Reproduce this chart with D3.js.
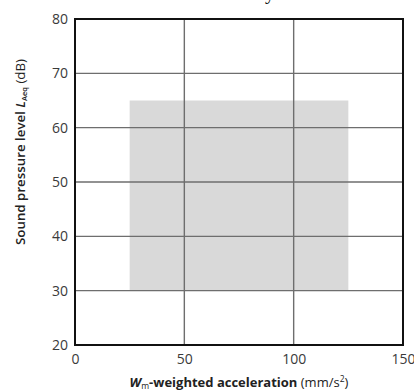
<!DOCTYPE html>
<html>
<head>
<meta charset="utf-8">
<script src="https://cdn.jsdelivr.net/npm/d3@7"></script>
<style>
  html, body { margin: 0; padding: 0; background: #fff; }
  svg { display: block; }
</style>
</head>
<body>
<svg id="chart" width="414" height="392"></svg>
<script>
// Axis domains and ticks
const xDomain = [0, 150];
const yDomain = [20, 80];
const xTicks = [0, 50, 100, 150];
const yTicks = [20, 30, 40, 50, 60, 70, 80];

// Shaded zone: acceleration range and sound pressure range
const zoneAccel = [25, 125];
const zoneLevel = [30, 65];

const svg = d3.select("#chart");
const margin = { left: 75, right: 11, top: 19, bottom: 47 };
const W = 414, H = 392;

const x = d3.scaleLinear().domain(xDomain).range([margin.left, W - margin.right]);
const y = d3.scaleLinear().domain(yDomain).range([H - margin.bottom, margin.top]);

// partial caption glyph above the frame
svg.append("text")
  .attr("x", 265).attr("y", -1)
  .attr("font-family", "Liberation Serif, serif")
  .attr("font-size", 20)
  .attr("fill", "#111")
  .text("y");

// shaded zone
svg.append("rect")
  .attr("x", x(zoneAccel[0]))
  .attr("y", y(zoneLevel[1]))
  .attr("width", x(zoneAccel[1]) - x(zoneAccel[0]))
  .attr("height", y(zoneLevel[0]) - y(zoneLevel[1]))
  .attr("fill", "#d9d9d9");

// grid lines
const grid = svg.append("g").attr("stroke", "#6e6e6e").attr("stroke-width", 1.4);
grid.selectAll("line.gx")
  .data(xTicks.slice(1, -1))
  .join("line")
  .attr("x1", d => x(d)).attr("x2", d => x(d))
  .attr("y1", y(yDomain[0])).attr("y2", y(yDomain[1]));
grid.selectAll("line.gy")
  .data(yTicks.slice(1, -1))
  .join("line")
  .attr("y1", d => y(d)).attr("y2", d => y(d))
  .attr("x1", x(xDomain[0])).attr("x2", x(xDomain[1]));

// frame
svg.append("rect")
  .attr("x", x(xDomain[0])).attr("y", y(yDomain[1]))
  .attr("width", x(xDomain[1]) - x(xDomain[0]))
  .attr("height", y(yDomain[0]) - y(yDomain[1]))
  .attr("fill", "none")
  .attr("stroke", "#111")
  .attr("stroke-width", 2);

// axes (labels only)
const font = "'Open Sans', 'Noto Sans', sans-serif";
const xAxis = svg.append("g")
  .attr("transform", `translate(0,${y(yDomain[0])})`)
  .call(d3.axisBottom(x).tickValues(xTicks).tickSize(0).tickPadding(9));
const yAxis = svg.append("g")
  .attr("transform", `translate(${x(xDomain[0])},0)`)
  .call(d3.axisLeft(y).tickValues(yTicks).tickSize(0).tickPadding(7));
[xAxis, yAxis].forEach(g => {
  g.select(".domain").remove();
  g.selectAll("text")
    .attr("font-family", font)
    .attr("font-size", 14)
    .attr("fill", "#3a3a3a");
});

// x axis title
const xt = svg.append("text")
  .attr("x", (x(xDomain[0]) + x(xDomain[1])) / 2)
  .attr("y", 387)
  .attr("text-anchor", "middle")
  .attr("font-family", font)
  .attr("font-size", 13)
  .attr("fill", "#222");
xt.append("tspan").attr("font-weight", 700).attr("font-style", "italic").text("W");
xt.append("tspan").attr("font-weight", 400).attr("font-size", 8.5).attr("dy", 2).text("m");
xt.append("tspan").attr("font-weight", 700).attr("dy", -2).text("-weighted acceleration ");
xt.append("tspan").attr("font-weight", 400).text("(mm/s");
xt.append("tspan").attr("font-weight", 400).attr("font-size", 8.5).attr("dy", -5).text("2");
xt.append("tspan").attr("font-weight", 400).attr("dy", 5).text(")");

// y axis title
const yt = svg.append("text")
  .attr("transform", `translate(25,152) rotate(-90)`)
  .attr("text-anchor", "middle")
  .attr("font-family", font)
  .attr("font-size", 13.3)
  .attr("font-weight", 600)
  .attr("fill", "#222");
yt.append("tspan").text("Sound pressure level ");
yt.append("tspan").attr("font-style", "italic").text("L");
yt.append("tspan").attr("font-size", 7.5).attr("dy", 2).text("Aeq");
yt.append("tspan").attr("font-weight", 400).attr("dy", -2).text(" (dB)");
</script>
</body>
</html>
